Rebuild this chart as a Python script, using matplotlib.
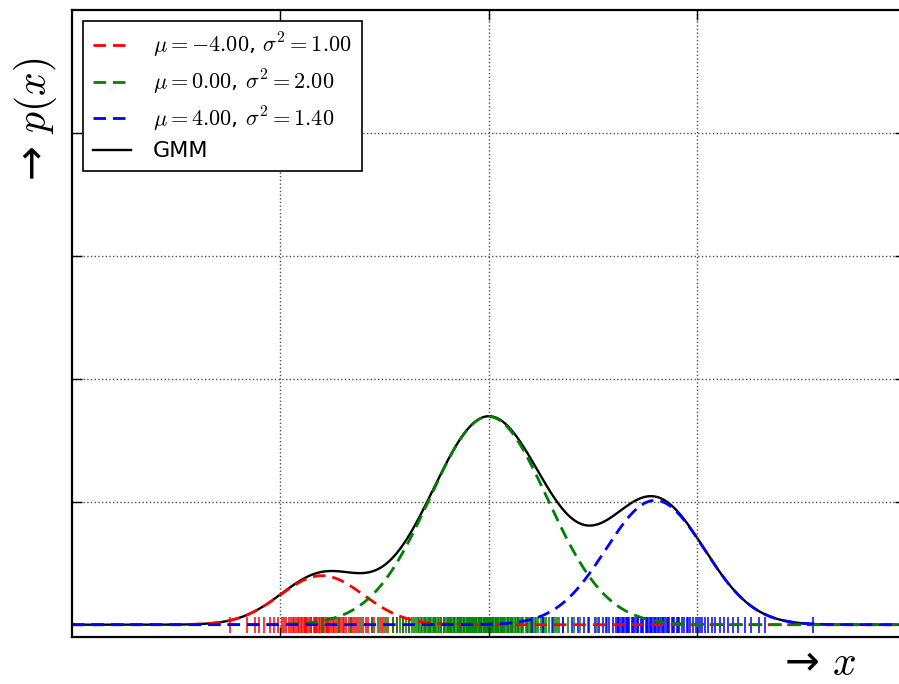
import numpy as np
from matplotlib import pyplot as plt
from matplotlib import rcParams

rcParams['mathtext.fontset'] = 'cm'
rcParams['font.family'] = 'DejaVu Sans'

# mixture parameters (from the legend) and weights read from peak heights
means = [-4.0, 0.0, 4.0]
variances = [1.0, 2.0, 1.4]
weights = [0.1, 0.6, 0.3]
colors = ['r', 'g', 'b']

# rug samples
red_samples = [-6.2, -5.8, -5.6, -5.5, -5.4, -5.25, -5.15, -5.05, -4.95, -4.9, -4.85,
               -4.8, -4.74, -4.7, -4.66, -4.62, -4.58, -4.55, -4.5, -4.47, -4.44, -4.4,
               -4.38, -4.35, -4.3, -4.27, -4.25, -4.2, -4.17, -4.15, -4.12, -4.08,
               -4.05, -4.0, -3.97, -3.95, -3.9, -3.88, -3.85, -3.84, -3.78, -3.74,
               -3.7, -3.65, -3.62, -3.58, -3.55, -3.5, -3.46, -3.42, -3.35, -3.3,
               -3.25, -3.2, -3.15, -3.1, -3.02, -2.95, -2.9, -2.8, -2.75, -2.6,
               -2.55, -2.45, -2.3, -2.2, -2.05, -1.9]
green_samples = [-4.0, -3.6, -3.3, -3.05, -2.8, -2.65, -2.5, -2.42, -2.3, -2.2, -2.12,
                 -2.05, -1.98, -1.9, -1.84, -1.78, -1.74, -1.7, -1.66, -1.63, -1.6,
                 -1.55, -1.52, -1.5, -1.46, -1.43, -1.41, -1.37, -1.34, -1.32, -1.28,
                 -1.25, -1.22, -1.18, -1.15, -1.13, -1.08, -1.06, -1.04, -1.0, -0.98,
                 -0.96, -0.92, -0.9, -0.88, -0.84, -0.82, -0.8, -0.76, -0.74, -0.72,
                 -0.69, -0.67, -0.65, -0.61, -0.6, -0.58, -0.54, -0.52, -0.5, -0.47,
                 -0.45, -0.43, -0.4, -0.38, -0.36, -0.33, -0.31, -0.29, -0.26, -0.24,
                 -0.22, -0.19, -0.17, -0.15, -0.12, -0.1, -0.08, -0.05, -0.03, -0.02,
                 0.01, 0.03, 0.05, 0.08, 0.1, 0.11, 0.15, 0.17, 0.18, 0.22, 0.24, 0.25,
                 0.29, 0.31, 0.33, 0.36, 0.38, 0.4, 0.44, 0.46, 0.48, 0.52, 0.54, 0.56,
                 0.6, 0.63, 0.65, 0.7, 0.72, 0.74, 0.79, 0.81, 0.84, 0.9, 0.93, 0.95,
                 1.0, 1.03, 1.06, 1.12, 1.15, 1.18, 1.25, 1.3, 1.34, 1.38, 1.45, 1.52,
                 1.6, 1.65, 1.7, 1.8, 1.92, 2.05, 2.2, 2.4, 2.6, 2.85, 3.1]
blue_samples = [1.05, 1.3, 1.55, 1.8, 2.0, 2.15, 2.3, 2.42, 2.55, 2.65, 2.75, 2.82,
                2.9, 2.98, 3.05, 3.1, 3.12, 3.16, 3.2, 3.23, 3.26, 3.3, 3.32, 3.35,
                3.38, 3.44, 3.47, 3.5, 3.55, 3.58, 3.6, 3.66, 3.69, 3.72, 3.77, 3.8,
                3.82, 3.88, 3.9, 3.93, 3.98, 4.0, 4.03, 4.08, 4.1, 4.13, 4.18, 4.2,
                4.23, 4.28, 4.31, 4.34, 4.4, 4.43, 4.46, 4.52, 4.55, 4.58, 4.64, 4.7,
                4.77, 4.8, 4.84, 4.9, 4.97, 5.04, 5.08, 5.12, 5.2, 5.28, 5.36, 5.45,
                5.55, 5.65, 5.75, 5.87, 6.0, 6.15, 6.3, 6.5, 6.65, 7.8]
samples = [red_samples, green_samples, blue_samples]

xs = np.linspace(-10, 10, 1000)

def gauss(x, mu, var):
    return np.exp(-(x - mu)**2 / (2 * var)) / np.sqrt(2 * np.pi * var)

fig = plt.figure(figsize=(8.99, 6.84), dpi=100)
ax = fig.add_axes([72/899, 1 - 637/684, 833/899, 627/684])

for s, c in zip(samples, colors):
    ax.plot(s, np.zeros(len(s)), '|', color=c, ms=12, mew=1.1, zorder=1)

gmm = sum(w * gauss(xs, m, v) for m, v, w in zip(means, variances, weights))

handles = []
for m, v, w, c in zip(means, variances, weights, colors):
    label = r'$\mu=%.2f$, $\sigma^2=%.2f$' % (m, v)
    h, = ax.plot(xs, w * gauss(xs, m, v), color=c, lw=2, ls=(0, (4.5, 2.5)), label=label)
    handles.append(h)
h, = ax.plot(xs, gmm, color='k', lw=1.7, label='GMM', zorder=1.5)
handles.append(h)

ax.set_xlim(-10, 10)
ax.set_ylim(-0.01, 0.5)
ax.set_xticks([-5, 0, 5])
ax.set_yticks([0.1, 0.2, 0.3, 0.4])
ax.set_xticklabels([])
ax.set_yticklabels([])
ax.tick_params(direction='in', length=7, width=1, top=True, right=True)
ax.grid(True, color='0.3', ls=':', lw=1)
for sp in ax.spines.values():
    sp.set_linewidth(1.6)

leg = ax.legend(handles=handles, loc='upper left', fontsize=16, labelspacing=0.35,
                fancybox=False, framealpha=1, edgecolor='k', borderpad=0.45,
                handlelength=1.7, handletextpad=1.0, borderaxespad=0.5)
leg.get_frame().set_linewidth(1.2)

ax.set_ylabel('→ $p(x)$', fontsize=30, va='center')
ax.yaxis.set_label_coords(-0.044, 0.826)
ax.set_xlabel('→ $x$', fontsize=30, va='center')
ax.xaxis.set_label_coords(0.898, -0.042)

plt.savefig('out.png', dpi=100)
plt.close()
